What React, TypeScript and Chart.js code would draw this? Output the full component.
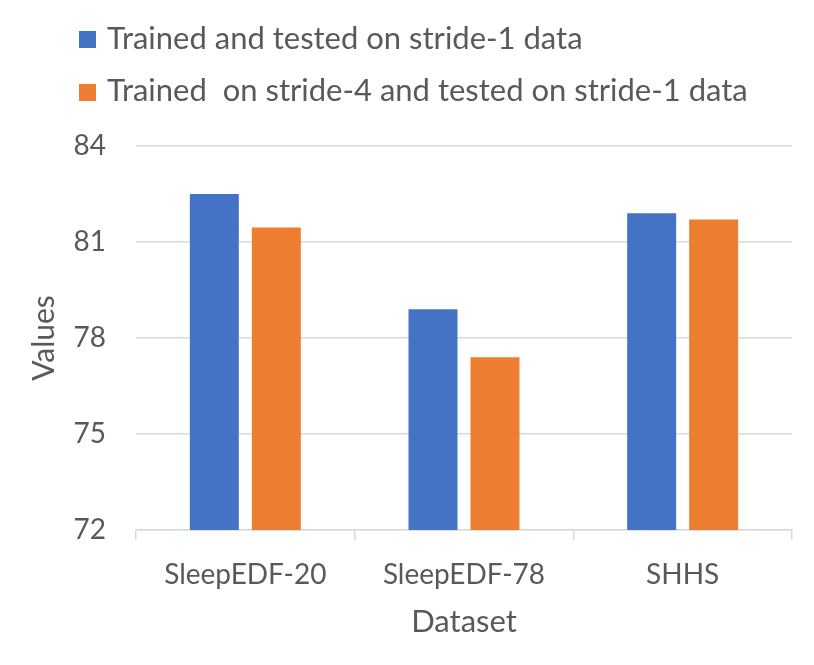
import { useEffect, useRef } from 'react';
import { Chart, registerables } from 'chart.js';
Chart.register(...registerables);

const categories = ['SleepEDF-20', 'SleepEDF-78', 'SHHS'];
const seriesNames = [
  'Trained and tested on stride-1 data',
  'Trained  on stride-4 and tested on stride-1 data',
];
const strideOne = [82.5, 78.9, 81.9];
const strideFour = [81.45, 77.4, 81.7];
const yMin = 72;
const yMax = 84;
const yStep = 3;

const colors = ['#4472C4', '#ED7D31'];
const textColor = '#595959';
const gridColor = '#D9D9D9';
const font = 'Lato';

export default function App() {
  const ref = useRef<HTMLCanvasElement | null>(null);

  useEffect(() => {
    if (!ref.current) return;
    const c = new Chart(ref.current, {
      type: 'bar',
      data: {
        labels: categories,
        datasets: [
          { label: seriesNames[0], data: strideOne, backgroundColor: colors[0] },
          { label: seriesNames[1], data: strideFour, backgroundColor: colors[1] },
        ],
      },
      options: {
        responsive: false,
        animation: false,
        layout: { padding: { top: 138, right: 14, left: 0, bottom: 0 } },
        datasets: { bar: { categoryPercentage: 0.567, barPercentage: 0.79 } },
        plugins: { legend: { display: false }, tooltip: { enabled: false } },
        scales: {
          x: {
            afterFit: (s: any) => { s.height = 127; },
            grid: { offset: true, drawOnChartArea: false, tickLength: 10, color: gridColor, lineWidth: 1.5 },
            border: { display: true, color: gridColor, width: 1.5 },
            ticks: { color: textColor, padding: 18, font: { family: font, size: 28 } },
            title: {
              display: true, text: 'Dataset', color: textColor,
              padding: { top: 0, bottom: 16 }, font: { family: font, size: 31 },
            },
          },
          y: {
            min: yMin,
            max: yMax,
            afterFit: (s: any) => { s.width = 128; },
            grid: { drawTicks: false, color: gridColor, lineWidth: 1.5 },
            border: { display: false },
            ticks: { stepSize: yStep, color: textColor, padding: 30, font: { family: font, size: 28 } },
            title: {
              display: true, text: 'Values', color: textColor,
              padding: { top: 18, bottom: 0 }, font: { family: font, size: 30 },
            },
          },
        },
      },
    });
    return () => c.destroy();
  }, []);

  return (
    <div style={{ position: 'relative', width: 798, height: 649, fontFamily: font, color: textColor }}>
      <canvas ref={ref} width={798} height={649} style={{ position: 'absolute', left: 0, top: 0 }} />
      {seriesNames.map((name, i) => (
        <div key={name}>
          <div
            style={{
              position: 'absolute', left: 71, top: 23 + i * 52.7,
              width: 17, height: 17, background: colors[i],
            }}
          />
          <div
            style={{
              position: 'absolute', left: 99, top: 13.5 + i * 52.7,
              fontSize: 31, lineHeight: 1, whiteSpace: 'pre',
            }}
          >
            {name}
          </div>
        </div>
      ))}
    </div>
  );
}
